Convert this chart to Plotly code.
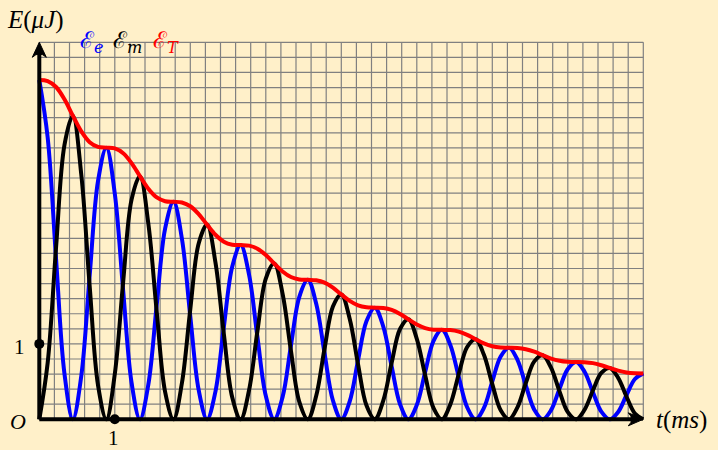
import plotly.graph_objects as go

# time samples (ms), read every 1/9 ms
t_ms = [0.000, 0.111, 0.222, 0.333, 0.444, 0.556, 0.667, 0.778, 0.889,
        1.000, 1.111, 1.222, 1.333, 1.444, 1.556, 1.667, 1.778, 1.889,
        2.000, 2.111, 2.222, 2.333, 2.444, 2.556, 2.667, 2.778, 2.889,
        3.000, 3.111, 3.222, 3.333, 3.444, 3.556, 3.667, 3.778, 3.889,
        4.000, 4.111, 4.222, 4.333, 4.444, 4.556, 4.667, 4.778, 4.889,
        5.000, 5.111, 5.222, 5.333, 5.444, 5.556, 5.667, 5.778, 5.889,
        6.000, 6.111, 6.222, 6.333, 6.444, 6.556, 6.667, 6.778, 6.889,
        7.000, 7.111, 7.222, 7.333, 7.444, 7.556, 7.667, 7.778, 7.889,
        8.000]

# electric energy (uJ)
E_e = [4.500, 3.736, 2.128, 0.606, 0.000, 0.574, 1.905, 3.162, 3.603,
       2.991, 1.704, 0.486, 0.000, 0.459, 1.525, 2.532, 2.885,
       2.395, 1.365, 0.389, 0.000, 0.368, 1.221, 2.028, 2.310,
       1.918, 1.093, 0.311, 0.000, 0.294, 0.978, 1.624, 1.850,
       1.536, 0.875, 0.249, 0.000, 0.236, 0.783, 1.300, 1.481,
       1.230, 0.701, 0.200, 0.000, 0.189, 0.627, 1.041, 1.186,
       0.985, 0.561, 0.160, 0.000, 0.151, 0.502, 0.834, 0.950,
       0.789, 0.449, 0.128, 0.000, 0.121, 0.402, 0.667, 0.761,
       0.631, 0.360, 0.102, 0.000, 0.097, 0.322, 0.534, 0.609]

# magnetic energy (uJ)
E_m = [0.000, 0.750, 2.279, 3.637, 4.027, 3.245, 1.770, 0.450, 0.000,
       0.601, 1.825, 2.913, 3.224, 2.598, 1.417, 0.360, 0.000,
       0.481, 1.461, 2.332, 2.582, 2.081, 1.135, 0.288, 0.000,
       0.385, 1.170, 1.867, 2.067, 1.666, 0.909, 0.231, 0.000,
       0.308, 0.937, 1.495, 1.656, 1.334, 0.728, 0.185, 0.000,
       0.247, 0.750, 1.197, 1.326, 1.068, 0.583, 0.148, 0.000,
       0.198, 0.601, 0.959, 1.062, 0.855, 0.467, 0.119, 0.000,
       0.158, 0.481, 0.768, 0.850, 0.685, 0.374, 0.095, 0.000,
       0.127, 0.385, 0.615, 0.681, 0.549, 0.299, 0.076, 0.000]

# total energy (uJ)
E_T = [4.500, 4.486, 4.407, 4.244, 4.027, 3.819, 3.675, 3.612, 3.603,
       3.592, 3.529, 3.398, 3.224, 3.058, 2.942, 2.892, 2.885,
       2.876, 2.826, 2.721, 2.582, 2.448, 2.356, 2.316, 2.310,
       2.303, 2.263, 2.179, 2.067, 1.961, 1.887, 1.855, 1.850,
       1.844, 1.812, 1.745, 1.656, 1.570, 1.511, 1.485, 1.481,
       1.477, 1.451, 1.397, 1.326, 1.257, 1.210, 1.189, 1.186,
       1.183, 1.162, 1.119, 1.062, 1.007, 0.969, 0.952, 0.950,
       0.947, 0.930, 0.896, 0.850, 0.806, 0.776, 0.762, 0.761,
       0.758, 0.745, 0.717, 0.681, 0.645, 0.621, 0.611, 0.609]

T_MAX = 8.0
E_MAX = 5.0
GRID_STEP = 0.2
unit_tick_x = [1]
unit_tick_y = [1]

W, H = 718, 450
BG = "#fff0c9"
FONT = "Liberation Serif, DejaVu Serif, serif"

x_range = [-0.5205, 8.9894]
y_range = [-0.4072, 5.561]
sx = W / (x_range[1] - x_range[0])
sy = H / (y_range[1] - y_range[0])

fig = go.Figure()

# grid
gx, gy = [], []
n_x = int(round(T_MAX / GRID_STEP))
n_y = int(round(E_MAX / GRID_STEP))
for i in range(n_x + 1):
    v = i * GRID_STEP
    gx += [v, v, None]
    gy += [0, E_MAX, None]
for j in range(n_y + 1):
    v = j * GRID_STEP
    gx += [0, T_MAX, None]
    gy += [v, v, None]
fig.add_trace(go.Scatter(x=gx, y=gy, mode="lines",
                         line=dict(color="rgb(128,128,128)", width=1.2),
                         hoverinfo="skip", showlegend=False))

# curves
fig.add_trace(go.Scatter(x=t_ms, y=E_e, mode="lines",
                         line=dict(color="#0000ff", width=4, shape="spline"),
                         showlegend=False))
fig.add_trace(go.Scatter(x=t_ms, y=E_m, mode="lines",
                         line=dict(color="#000000", width=4, shape="spline"),
                         showlegend=False))
fig.add_trace(go.Scatter(x=t_ms, y=E_T, mode="lines",
                         line=dict(color="#ff0000", width=4, shape="spline"),
                         showlegend=False))

# axes lines
head_len_x = 15 / sx
head_w_y = 6.5 / sy
head_len_y = 15 / sy
head_w_x = 7 / sx
fig.add_trace(go.Scatter(x=[0, T_MAX - head_len_x * 0.6], y=[0, 0], mode="lines",
                         line=dict(color="black", width=4), hoverinfo="skip",
                         showlegend=False))
fig.add_trace(go.Scatter(x=[0, 0], y=[0, E_MAX - head_len_y * 0.6], mode="lines",
                         line=dict(color="black", width=4), hoverinfo="skip",
                         showlegend=False))
# arrow heads
fig.add_shape(type="path", xref="x", yref="y",
              path=(f"M {T_MAX},0 L {T_MAX - head_len_x},{head_w_y} "
                    f"Q {T_MAX - head_len_x * 0.55},0 {T_MAX - head_len_x},{-head_w_y} Z"),
              fillcolor="black", line=dict(color="black", width=1))
fig.add_shape(type="path", xref="x", yref="y",
              path=(f"M 0,{E_MAX} L {head_w_x},{E_MAX - head_len_y} "
                    f"Q 0,{E_MAX - head_len_y * 0.55} {-head_w_x},{E_MAX - head_len_y} Z"),
              fillcolor="black", line=dict(color="black", width=1))

# unit dots
fig.add_trace(go.Scatter(x=unit_tick_x + [0], y=[0] + unit_tick_y, mode="markers",
                         marker=dict(color="black", size=10), hoverinfo="skip",
                         showlegend=False))

def px2paper(px, py):
    return px / W, 1 - py / H

annots = []
# axis titles
x, y = px2paper(5, 20)
annots.append(dict(x=x, y=y, text="<i>E</i>(<i>μJ</i>)", xanchor="left", yanchor="middle",
                   font=dict(size=25, color="black", family=FONT)))
x, y = px2paper(654, 420)
annots.append(dict(x=x, y=y, text="<i>t</i>(<i>ms</i>)", xanchor="left", yanchor="middle",
                   font=dict(size=25, color="black", family=FONT)))
# labels
x, y = px2paper(28, 421)
annots.append(dict(x=x, y=y, text="<i>O</i>", xanchor="right", yanchor="middle",
                   font=dict(size=22, color="black", family=FONT)))
x, y = px2paper(114, 438)
annots.append(dict(x=x, y=y, text="1", xanchor="center", yanchor="middle",
                   height=20,
                   font=dict(size=21, color="black", family=FONT)))
x, y = px2paper(27, 347)
annots.append(dict(x=x, y=y, text="1", xanchor="right", yanchor="middle",
                   font=dict(size=21, color="black", family=FONT)))
# legend
for px_, txt, col in [(78, "ℰ<sub><i>e</i></sub>", "#0000ff"),
                      (111, "ℰ<sub><i>m</i></sub>", "#000000"),
                      (151, "ℰ<sub><i>T</i></sub>", "#ff0000")]:
    x, y = px2paper(px_, 42)
    annots.append(dict(x=x, y=y, text=txt, xanchor="left", yanchor="middle",
                       font=dict(size=23, color=col, family="DejaVu Serif, serif")))
for a in annots:
    a.update(xref="paper", yref="paper", showarrow=False)

fig.update_layout(
    width=W, height=H,
    margin=dict(l=0, r=0, t=0, b=0),
    paper_bgcolor=BG, plot_bgcolor=BG,
    xaxis=dict(range=x_range, visible=False, fixedrange=True),
    yaxis=dict(range=y_range, visible=False, fixedrange=True),
    annotations=annots,
    showlegend=False,
)

fig.write_html("out.html",
               config={"displayModeBar": False},
               post_script="document.body.style.margin='0';"
                           "document.documentElement.style.overflow='hidden';")
